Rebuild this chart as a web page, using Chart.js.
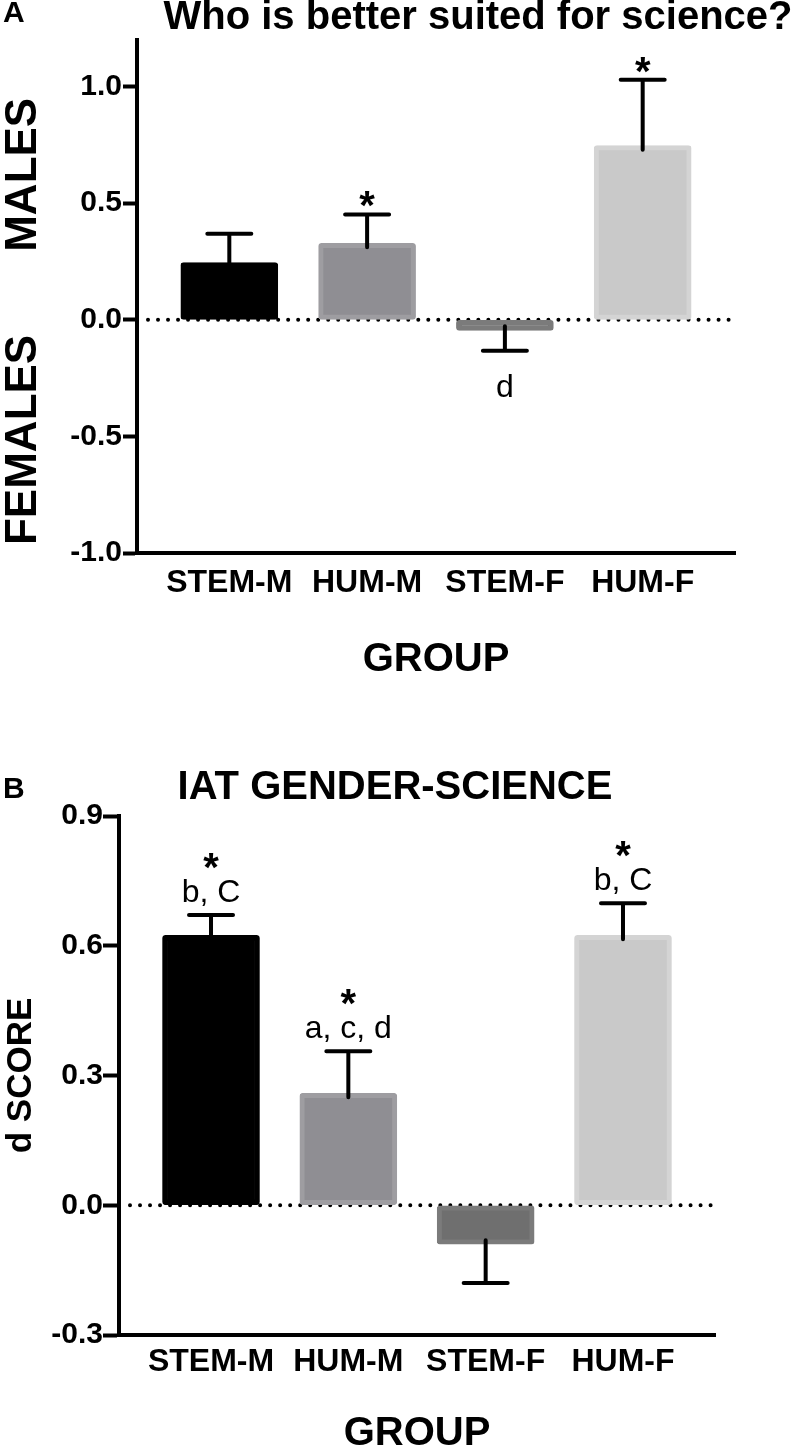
<!DOCTYPE html>
<html>
<head>
<meta charset="utf-8">
<script src="https://cdn.jsdelivr.net/npm/chart.js@4.4.0/dist/chart.umd.min.js"></script>
<style>
  html, body { margin: 0; padding: 0; background: #fff; }
  canvas { display: block; }
</style>
</head>
<body>
<canvas id="chartA" width="800" height="730"></canvas>
<canvas id="chartB" width="800" height="724"></canvas>
<script>
// -------------------------
// Data
// -------------------------
const groups = ["STEM-M", "HUM-M", "STEM-F", "HUM-F"];

// panel A: who is better suited for science?
const explicitMeans = [0.245, 0.328, -0.045, 0.747];
const explicitSem = [0.124, 0.124, 0.088, 0.283];
const explicitStars = ["", "*", "", "*"];
const explicitLetters = ["", "", "d", ""];
const explicitTicks = [-1.0, -0.5, 0.0, 0.5, 1.0];

// panel B: IAT gender-science d score
const iatMeans = [0.624, 0.259, -0.090, 0.624];
const iatSem = [0.047, 0.097, 0.090, 0.074];
const iatStars = ["*", "*", "", "*"];
const iatLetters = ["b, C", "a, c, d", "", "b, C"];
const iatTicks = [-0.3, 0.0, 0.3, 0.6, 0.9];

const barFill = ["#000000", "#8f8e93", "#6f6f6f", "#c9c9c9"];
const barEdge = ["#000000", "#9e9da1", "#7b7b7b", "#d4d4d4"];

const FONT = "'Liberation Sans', Arial, Helvetica, sans-serif";
Chart.defaults.color = "#000";
Chart.defaults.font.family = FONT;

// -------------------------
// Plugins
// -------------------------
// dotted line at zero, behind the bars
const zeroLine = {
  id: "zeroLine",
  beforeDatasetsDraw(chart) {
    const { ctx, chartArea, scales: { y } } = chart;
    const py = y.getPixelForValue(0);
    ctx.save();
    ctx.strokeStyle = "#000";
    ctx.lineWidth = 4;
    ctx.lineCap = "round";
    ctx.setLineDash([0.01, 10]);
    ctx.beginPath();
    ctx.moveTo(chartArea.left + 11, py);
    ctx.lineTo(chartArea.right, py);
    ctx.stroke();
    ctx.restore();
  }
};

// one-sided SEM bars, with letters and stars past the cap
const errorBars = {
  id: "errorBars",
  afterDatasetsDraw(chart, args, opts) {
    const { ctx, scales: { y } } = chart;
    const meta = chart.getDatasetMeta(0);
    const means = chart.data.datasets[0].data.map(d => d.y);
    ctx.save();
    ctx.strokeStyle = "#000";
    ctx.fillStyle = "#000";
    ctx.lineWidth = 4;
    ctx.lineCap = "round";
    ctx.textAlign = "center";
    ctx.textBaseline = "middle";
    meta.data.forEach((bar, i) => {
      const m = means[i];
      const dir = m < 0 ? -1 : 1;
      const yBar = y.getPixelForValue(m) + dir * 4;
      const yEnd = y.getPixelForValue(m + dir * opts.sem[i]);
      ctx.beginPath();
      ctx.moveTo(bar.x, yBar);
      ctx.lineTo(bar.x, yEnd);
      ctx.moveTo(bar.x - 22, yEnd);
      ctx.lineTo(bar.x + 22, yEnd);
      ctx.stroke();

      let next = dir > 0 ? yEnd - 14 : yEnd + 35;
      if (opts.letters[i]) {
        const ly = dir > 0 ? yEnd - 22 : yEnd + 37;
        ctx.font = `32px ${FONT}`;
        ctx.fillText(opts.letters[i], bar.x, ly);
        next = ly - 31;
      }
      if (opts.stars[i]) {
        ctx.font = `bold 40px ${FONT}`;
        ctx.fillText(opts.stars[i], bar.x, next + 8);
      }
    });
    ctx.restore();
  }
};

// panel letter, title and rotated side labels
const panelText = {
  id: "panelText",
  afterDraw(chart, args, opts) {
    const { ctx } = chart;
    ctx.save();
    ctx.fillStyle = "#000";
    ctx.textBaseline = "middle";
    ctx.textAlign = "left";
    ctx.font = `bold 30px ${FONT}`;
    ctx.fillText(opts.letter, 3, opts.letterY);
    ctx.textAlign = "center";
    ctx.font = `bold 40px ${FONT}`;
    ctx.fillText(opts.title, opts.titleX, opts.titleY);
    (opts.side || []).forEach(s => {
      ctx.save();
      ctx.translate(24, chart.scales.y.getPixelForValue(s.at));
      ctx.rotate(-Math.PI / 2);
      ctx.font = `bold 44px ${FONT}`;
      ctx.fillText(s.text, 0, 0);
      ctx.restore();
    });
    ctx.restore();
  }
};

// -------------------------
// Chart builder
// -------------------------
function buildChart(id, p) {
  return new Chart(document.getElementById(id), {
    type: "bar",
    data: {
      datasets: [{
        data: p.means.map((v, i) => ({ x: i, y: v })),
        backgroundColor: barFill,
        borderColor: barEdge,
        borderWidth: 5,
        borderRadius: 3,
        borderSkipped: false,
        barThickness: 97
      }]
    },
    options: {
      responsive: false,
      animation: false,
      devicePixelRatio: 1,
      layout: { padding: { top: p.top, right: p.right, bottom: 0, left: 0 } },
      scales: {
        x: {
          type: "linear",
          min: -0.67,
          max: 3.67,
          bounds: "data",
          offset: false,
          afterBuildTicks: s => { s.ticks = groups.map((g, i) => ({ value: i })); },
          afterFit: s => { s.height = p.xHeight; },
          grid: { display: false, offset: false },
          border: { display: true, color: "#000", width: 4 },
          ticks: {
            padding: p.xPad,
            autoSkip: false,
            maxRotation: 0,
            color: "#000",
            font: { size: 32, weight: "bold" },
            callback: v => groups[v]
          },
          title: {
            display: true,
            text: "GROUP",
            color: "#000",
            font: { size: 40, weight: "bold", lineHeight: 1 },
            padding: { top: 0, bottom: p.groupPad }
          }
        },
        y: {
          min: p.ticks[0],
          max: p.yMax,
          afterBuildTicks: s => { s.ticks = p.ticks.map(v => ({ value: v })); },
          afterFit: s => { s.width = p.left; },
          grid: { drawOnChartArea: false, drawTicks: true, tickLength: p.tickLen, tickWidth: 4, tickColor: "#000" },
          border: { display: true, color: "#000", width: 4 },
          ticks: {
            padding: p.yPad,
            color: "#000",
            font: { size: 30, weight: "bold" },
            callback: v => v.toFixed(1)
          },
          title: {
            display: !!p.yTitle,
            text: p.yTitle || "",
            color: "#000",
            font: { size: 35, weight: "bold", lineHeight: 1 },
            padding: { top: 4, bottom: 0 }
          }
        }
      },
      plugins: {
        legend: { display: false },
        tooltip: { enabled: false },
        errorBars: { sem: p.sem, stars: p.stars, letters: p.letters },
        panelText: p.text
      }
    },
    plugins: [zeroLine, errorBars, panelText]
  });
}

buildChart("chartA", {
  means: explicitMeans, sem: explicitSem, stars: explicitStars, letters: explicitLetters,
  ticks: explicitTicks, yMax: 1.2,
  top: 40, right: 65, left: 137, xHeight: 177, xPad: 3, groupPad: 50,
  tickLen: 14, yPad: 1,
  text: {
    letter: "A", letterY: 14,
    title: "Who is better suited for science?", titleX: 478, titleY: 18,
    side: [{ text: "MALES", at: 0.622 }, { text: "FEMALES", at: -0.515 }]
  }
});

buildChart("chartB", {
  means: iatMeans, sem: iatSem, stars: iatStars, letters: iatLetters,
  ticks: iatTicks, yMax: 0.9,
  top: 86, right: 85, left: 119, xHeight: 119, xPad: 0, groupPad: 0,
  tickLen: 16, yPad: 0, yTitle: "d SCORE",
  text: {
    letter: "B", letterY: 60,
    title: "IAT GENDER-SCIENCE", titleX: 395, titleY: 58
  }
});
</script>
</body>
</html>
